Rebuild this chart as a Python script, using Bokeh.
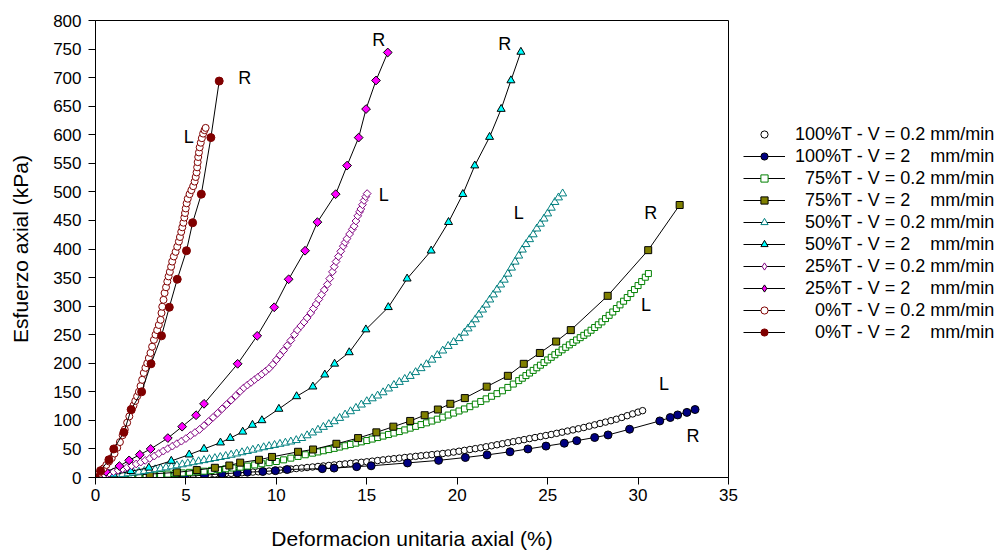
import math
from bokeh.plotting import figure
from bokeh.layouts import row
from bokeh.models import Range1d, FixedTicker, Legend, LegendItem
from bokeh.core.properties import value
from bokeh.embed import file_html
from bokeh.resources import INLINE

FONT = "Liberation Sans"

x_ticks = [0, 5, 10, 15, 20, 25, 30, 35]
y_ticks = [0, 50, 100, 150, 200, 250, 300, 350, 400, 450, 500, 550, 600, 650, 700, 750, 800]

# 100%T - V = 0.2 mm/min
x100_02 = [0.0,0.3,0.6,0.9,1.2,1.5,1.8,2.1,2.4,2.7,3.0,3.3,3.6,3.9,4.2,4.5,4.8,5.1,5.4,5.7,
           6.0,6.3,6.6,6.9,7.2,7.5,7.8,8.1,8.4,8.7,9.0,9.3,9.6,9.9,10.2,10.5,10.8,11.1,11.4,11.7,
           12.0,12.3,12.6,12.9,13.2,13.5,13.8,14.1,14.4,14.7,15.0,15.3,15.6,15.9,16.2,16.5,16.8,17.1,17.4,17.7,
           18.0,18.3,18.6,18.9,19.2,19.5,19.8,20.1,20.4,20.7,21.0,21.3,21.6,21.9,22.2,22.5,22.8,23.1,23.4,23.7,
           24.0,24.3,24.6,24.9,25.2,25.5,25.8,26.1,26.4,26.7,27.0,27.3,27.6,27.9,28.2,28.5,28.8,29.1,29.4,29.7,
           30.0,30.25]
y100_02 = [0,0.15,0.3,0.45,0.6,0.75,0.9,1.1,1.4,1.7,2.0,2.3,2.6,2.9,3.2,3.6,3.9,4.2,4.6,4.9,
           5.3,5.7,6.1,6.5,6.9,7.3,7.8,8.3,8.9,9.5,10.0,10.6,11.3,12.1,13.0,13.9,14.8,15.7,16.6,17.5,
           18.4,19.3,20.2,21.1,22.0,22.9,23.8,24.7,25.7,26.6,27.5,28.6,29.7,30.8,31.9,32.9,33.9,35.0,36.0,37.0,
           38.0,39.0,40.0,41.0,42.0,43.0,44.5,46.0,47.5,49.0,50.5,52.0,53.8,55.5,57.3,59.1,60.9,62.7,64.5,66.3,
           68.1,69.9,71.7,73.5,75.3,77.3,79.3,81.3,83.3,85.3,87.5,89.9,92.2,94.6,97.0,99.4,102.0,105.1,108.2,111.3,
           114.4,117.0]

# 100%T - V = 2 mm/min
x100_2 = [0,1.2,2.9,3.86,4.92,6.03,7.0,7.84,8.4,9.25,9.95,10.6,12.54,13.19,14.44,15.24,17.25,18.97,
          20.45,21.65,22.92,23.91,24.91,25.92,26.61,27.6,28.34,29.53,31.2,31.78,32.19,32.7,33.15]
y100_2 = [0,0.5,1,1.5,2,4,6.5,8,9.3,10.5,12,14,15.5,16.5,19,20.5,25.5,30,
          35,39.6,45,50,55,60,64.5,70,74.5,84.5,99,105,109.5,114,119]

# 75%T - V = 0.2 mm/min
x75_02 = [0,0.4,0.8,1.2,1.6,2.0,2.4,2.8,3.2,3.6,4.0,4.4,4.8,5.2,5.6,6.0,6.4,6.8,7.2,7.6,
          8.0,8.4,8.8,9.2,9.6,10.0,10.4,10.8,11.2,11.6,12.0,
          12.3,12.6,12.9,13.2,13.5,13.8,14.1,14.4,14.7,15.0,15.3,15.6,15.9,16.2,16.5,16.8,17.1,17.4,17.7,18.0,
          18.3,18.6,18.9,19.2,19.5,19.8,20.1,20.4,20.7,21.0,21.3,21.6,21.9,22.2,22.5,22.8,23.1,23.4,
          23.6,23.8,24.0,24.2,24.4,24.6,24.8,25.0,25.2,25.4,25.6,25.8,26.0,26.2,26.4,26.6,26.8,27.0,27.2,27.4,
          27.6,27.8,28.0,28.2,28.4,28.6,28.8,29.0,29.2,29.4,29.6,29.8,30.0,30.2,30.4,30.57]
y75_02 = [0,0.4,0.8,1.2,1.6,2.0,2.8,3.6,4.4,5.2,6.0,7.0,8.0,9.0,10.0,11.0,12.4,13.8,15.2,16.6,
          18.0,20.0,22.0,24.0,26.0,28.0,30.9,33.9,36.9,39.8,42.6,
          44.7,46.8,48.9,51.0,53.3,55.6,57.9,60.1,62.4,64.7,67.3,69.9,72.5,75.2,77.8,80.4,83.3,86.4,89.5,92.6,
          95.7,98.8,102.1,105.7,109.3,112.8,116.4,120.0,124.0,128.5,133.1,137.7,142.2,146.8,151.8,157.7,163.6,169.6,
          173.8,178.4,182.9,187.5,192.1,196.6,201.2,205.8,210.4,214.9,219.2,223.5,227.9,232.2,236.5,240.7,244.8,248.9,253.0,257.8,
          262.6,267.4,272.4,278.2,283.9,289.7,295.8,302.2,308.6,315.0,322.0,329.0,336.0,343.0,350.6,357.0]

# 75%T - V = 2 mm/min
x75_2 = [0,1.5,3.0,4.5,5.6,6.6,7.4,8.0,9.04,9.76,11.2,12.03,13.32,14.52,15.53,16.47,17.4,18.2,18.93,
         19.62,20.42,21.63,22.8,23.68,24.57,25.47,26.28,28.32,30.56,32.3]
y75_2 = [0,3,6,9,13,17,21,26,31,36,45,49,59,69,79,89,99,109,119,
         129,139,159,178,199,218,238,258,318,398,477]

# 50%T - V = 0.2 mm/min
x50_02 = [0,0.3,0.6,0.9,1.2,1.5,1.8,2.1,2.4,2.7,3.0,3.3,3.6,3.9,4.2,4.5,4.8,5.1,5.4,5.7,
          6.0,6.3,6.6,6.9,7.2,7.5,7.8,8.1,8.4,8.7,9.0,9.3,9.6,9.9,10.2,10.5,10.8,11.1,11.4,11.7,
          12.0,12.3,12.6,12.9,13.2,13.5,13.8,14.1,14.4,14.7,15.0,15.3,15.6,15.9,16.2,16.5,16.8,17.1,17.4,17.7,
          18.0,18.3,18.6,18.9,19.2,19.5,19.8,20.1,20.4,
          20.6,20.8,21.0,21.2,21.4,21.6,21.8,22.0,22.2,22.4,22.6,22.8,23.0,23.2,23.4,23.6,23.8,24.0,24.2,24.4,
          24.6,24.8,25.0,25.2,25.4,25.6,25.83]
y50_02 = [0,1.1,2.3,3.4,4.5,5.6,6.9,8.4,9.8,11.2,12.6,14.1,15.6,17.4,19.2,21.0,22.8,24.6,26.4,28.2,
          30.1,31.9,33.7,35.6,37.4,39.5,41.7,43.9,46.1,48.3,50.5,52.7,54.7,56.7,58.7,60.7,62.7,65.2,68.8,73.6,
          78.5,83.4,88.3,93.2,98.2,104.0,109.9,115.7,121.6,127.4,133.3,138.3,143.2,148.9,155.5,161.7,167.0,172.3,177.5,184.2,
          191.1,198.0,206.0,214.0,222.0,230.0,236.9,243.7,253.3,
          260.7,268.0,276.6,285.1,293.7,302.4,311.3,320.2,328.9,337.5,346.0,356.5,367.1,377.6,388.2,398.7,408.3,416.9,425.4,435.6,
          444,453,462,472,482,490,497]

# 50%T - V = 2 mm/min
x50_2 = [0,1.0,1.95,2.95,4.19,5.18,6.0,6.91,7.45,8.14,8.68,9.2,10.14,11.12,12.02,12.68,13.22,14.03,14.95,
         16.19,17.23,18.56,19.52,20.31,20.97,21.79,22.43,22.97,23.52]
y50_2 = [0,5,11,17,29,40,50,61,69,80,92,100,120,142,159,180,199,219,259,
         298,348,397,447,496,546,596,645,695,745]

# 25%T - V = 0.2 mm/min
x25_02 = [0,0.25,0.5,0.75,1.0,1.25,1.5,1.75,2.0,2.25,2.5,2.75,3.0,3.25,3.5,3.75,4.0,4.25,4.5,4.75,
          5.0,5.25,5.5,5.75,6.0,6.25,6.5,6.75,7.0,7.25,7.5,7.75,8.0,
          8.2,8.4,8.6,8.8,9.0,9.2,9.4,9.6,9.8,10.0,10.2,10.4,10.6,10.8,11.0,
          11.16,11.35,11.53,11.7,11.9,12.05,12.2,12.35,12.5,12.65,12.82,12.95,13.1,13.2,13.3,13.43,13.56,13.7,
          13.8,13.9,14.05,14.2,14.3,14.4,14.5,14.6,14.67,14.76,14.85,14.94,15.02]
y25_02 = [0,2.5,5.0,7.5,10.0,12.5,15.2,17.9,20.6,23.7,26.9,30.0,33.3,37.6,42.0,46.3,50.5,54.9,59.2,63.6,
          68.2,73.6,78.7,84.0,90.8,98.0,105.2,112.5,120.2,127.8,135.4,143.0,150.9,
          157.0,161.8,166.5,171.3,176.0,180.8,185.9,191.0,197.8,206.0,214.1,222.2,231.0,240.0,250.0,
          258.0,265.2,272.0,279.4,288.0,295.8,303.6,311.8,320.0,328.4,338.0,348.2,360.0,369.0,378.0,387.0,396.0,405.0,
          411.5,418.0,426.2,434.5,440.0,449.0,458.0,465.0,470.0,477.5,485.0,491.5,497.0]

# 25%T - V = 2 mm/min
x25_2 = [0,0.58,1.32,1.86,2.45,3.05,4.0,4.79,5.56,6.0,7.86,8.94,9.88,10.68,11.59,12.27,13.28,13.91,
         14.55,14.96,15.51,16.16]
y25_2 = [0,10,20,30,40,50,69,89,109,129,199,248,298,347,397,447,496,546,
         595,645,695,744]

# 0%T - V = 0.2 mm/min
x0_02 = [0,0.15,0.3,0.45,0.6,0.75,0.9,1.05,1.2,1.35,1.5,1.62,1.75,1.87,2.0,2.1,2.2,2.3,2.4,2.49,
         2.58,2.67,2.76,2.86,2.95,3.04,3.13,3.23,3.32,3.41,3.5,3.6,3.65,3.69,3.76,3.82,3.9,3.97,4.04,4.11,
         4.18,4.24,4.33,4.43,4.52,4.61,4.67,4.74,4.8,4.86,4.91,4.95,4.99,5.04,5.1,5.2,5.3,5.4,5.48,5.54,
         5.59,5.62,5.65,5.68,5.72,5.76,5.82,5.88,5.95,6.03,6.09]
y0_02 = [0,5,10,16,22,28,34,42,52,62,74,84,96,107,118,126,134,142,150,160,
         171,183,192,200,209,218,229,241,250,258,267,276,288,299,311,323,333,343,352,360,
         369,378,387,395,404,413,421,430,438,446,455,463,471,480,488,496,503,510,518,526,
         534,543,552,561,569,578,586,594,602,608,612]

# 0%T - V = 2 mm/min
x0_2 = [0,0.28,0.74,1.01,1.57,1.97,2.55,3.07,3.65,4.08,4.52,5.03,5.37,5.85,6.38,6.84]
y0_2 = [0,12,31,50,79,119,150,199,248,298,347,397,446,496,595,694]

NB = "\u00a0"
labels = ["100%T - V = 0.2 mm/min",
          "100%T - V = 2" + NB * 4 + "mm/min",
          NB * 2 + "75%T - V = 0.2 mm/min",
          NB * 2 + "75%T - V = 2" + NB * 4 + "mm/min",
          NB * 2 + "50%T - V = 0.2 mm/min",
          NB * 2 + "50%T - V = 2" + NB * 4 + "mm/min",
          NB * 2 + "25%T - V = 0.2 mm/min",
          NB * 2 + "25%T - V = 2" + NB * 4 + "mm/min",
          NB * 4 + "0%T - V = 0.2 mm/min",
          NB * 4 + "0%T - V = 2" + NB * 4 + "mm/min"]

# R / L annotations
lab_x = [8.25, 5.15, 15.66, 15.94, 22.63, 23.4, 30.7, 30.44, 31.43, 33.04]
lab_y = [699, 596, 765, 495, 758, 463, 463, 302, 163, 73]
lab_t = ["R", "L", "R", "L", "R", "L", "R", "L", "L", "R"]

series = [
    dict(x=x100_02, y=y100_02, marker="circle", size=6.5, fill="white", edge="black", line=False),
    dict(x=x100_2, y=y100_2, marker="circle", size=8, fill="#000080", edge="black", line=True),
    dict(x=x75_02, y=y75_02, marker="square", size=6, fill="white", edge="#008000", line=True),
    dict(x=x75_2, y=y75_2, marker="square", size=7, fill="#808000", edge="black", line=True),
    dict(x=x50_02, y=y50_02, marker="triangle", size=8, fill="white", edge="#008080", line=True),
    dict(x=x50_2, y=y50_2, marker="triangle", size=8, fill="#00FFFF", edge="black", line=True),
    dict(x=x25_02, y=y25_02, marker="diamond", size=5.5, fill="white", edge="#800080", line=True),
    dict(x=x25_2, y=y25_2, marker="diamond", size=6.2, fill="#FF00FF", edge="black", line=True),
    dict(x=x0_02, y=y0_02, marker="circle", size=7, fill="white", edge="#800000", line=True),
    dict(x=x0_2, y=y0_2, marker="circle", size=8, fill="#800000", edge="#800000", line=True),
]

MAIN_W = 740
p = figure(width=MAIN_W, height=552, output_backend="svg", toolbar_location=None,
           x_range=Range1d(0, 35), y_range=Range1d(0, 800),
           min_border_left=95, min_border_right=MAIN_W - 95 - 633, min_border_top=20, min_border_bottom=74)
p.grid.visible = False
p.outline_line_color = "black"
p.outline_line_width = 1
p.background_fill_color = "white"
p.border_fill_color = "white"

p.xaxis.ticker = FixedTicker(ticks=x_ticks, minor_ticks=[])
p.yaxis.ticker = FixedTicker(ticks=y_ticks, minor_ticks=[])
for ax in (p.xaxis, p.yaxis):
    ax.axis_line_color = "black"
    ax.axis_line_width = 1
    ax.major_tick_line_color = "black"
    ax.major_tick_out = 7
    ax.major_tick_in = 0
    ax.minor_tick_out = 0
    ax.minor_tick_in = 0
    ax.major_label_text_font = FONT
    ax.major_label_text_font_size = "17px"
    ax.major_label_text_color = "black"
    ax.axis_label_text_font = FONT
    ax.axis_label_text_font_size = "21px"
    ax.axis_label_text_font_style = "normal"
    ax.axis_label_text_color = "black"
p.xaxis.axis_label = "Deformacion unitaria axial (%)"
p.yaxis.axis_label = "Esfuerzo axial (kPa)"
p.xaxis.major_label_standoff = 4
p.xaxis.axis_label_standoff = 23
p.yaxis.major_label_standoff = 7
p.yaxis.axis_label_standoff = 18

# separate panel holding the legend (its ranges show none of the data itself)
LEG_W = 995 - MAIN_W
q = figure(width=LEG_W, height=552, output_backend="svg", toolbar_location=None,
           x_range=Range1d(1000, 1001), y_range=Range1d(1000, 1001),
           x_axis_location=None, y_axis_location=None,
           min_border_left=0, min_border_right=0, min_border_top=0, min_border_bottom=0)
q.grid.visible = False
q.outline_line_color = None
q.background_fill_color = "white"
q.border_fill_color = "white"

items = []
for s, lab in zip(series, labels):
    n = min(len(s["x"]), len(s["y"]))
    xs, ys = s["x"][:n], s["y"][:n]
    rends = []
    if s["line"]:
        p.line(xs, ys, line_color="black", line_width=1)
        rends.append(q.line(xs, ys, line_color="black", line_width=1))
    if s["marker"] == "diamond":
        p.scatter(xs, ys, marker="square", angle=math.pi / 4, size=s["size"],
                  fill_color=s["fill"], line_color=s["edge"], line_width=1)
    else:
        p.scatter(xs, ys, marker=s["marker"], size=s["size"], fill_color=s["fill"],
                  line_color=s["edge"], line_width=1)
    rends.append(q.scatter(xs, ys, marker=s["marker"], size=s["size"], fill_color=s["fill"],
                           line_color=s["edge"], line_width=1))
    items.append(LegendItem(label=lab, renderers=rends))

p.text(x=lab_x, y=lab_y, text=lab_t, text_font=value(FONT), text_font_size=value("18px"),
       text_align="center", text_baseline="middle", text_color="black")

# the row aligns both frames (page y 20..478); legend bottom sits at page y 344
legend = Legend(items=items, location=(743 - MAIN_W, 478 - 344), orientation="vertical",
                padding=0, margin=0, spacing=0, glyph_width=42, glyph_height=18,
                label_height=22, label_standoff=10, label_text_font=FONT,
                label_text_font_size="18px", label_text_color="black",
                border_line_color=None, background_fill_alpha=0)
q.add_layout(legend)

layout = row(p, q)
open("out.html", "w").write(file_html(layout, INLINE))
